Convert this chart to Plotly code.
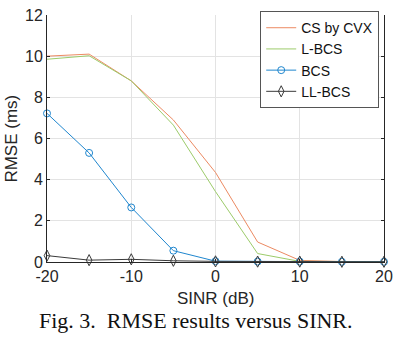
import plotly.graph_objects as go

sinr = [-20, -15, -10, -5, 0, 5, 10, 15, 20]
cs_cvx = [10.0, 10.1, 8.8, 6.9, 4.35, 0.97, 0.08, 0.02, 0.02]
l_bcs = [9.85, 10.02, 8.8, 6.65, 3.42, 0.41, 0.03, 0.02, 0.02]
bcs = [7.22, 5.3, 2.65, 0.55, 0.04, 0.02, 0.02, 0.01, 0.01]
ll_bcs = [0.31, 0.09, 0.13, 0.06, 0.03, 0.02, 0.02, 0.01, 0.01]

x_ticks = [-20, -10, 0, 10, 20]
y_ticks = [0, 2, 4, 6, 8, 10, 12]

FONT = "Liberation Sans, Arial, sans-serif"

fig = go.Figure()
fig.add_trace(go.Scatter(x=sinr, y=cs_cvx, name="CS by CVX", mode="lines",
                         line=dict(color="#EC8A62", width=1), cliponaxis=False))
fig.add_trace(go.Scatter(x=sinr, y=l_bcs, name="L-BCS", mode="lines",
                         line=dict(color="#9CCB6A", width=1), cliponaxis=False))
fig.add_trace(go.Scatter(x=sinr, y=bcs, name="BCS", mode="lines+markers",
                         line=dict(color="#1F86CE", width=1),
                         marker=dict(symbol="circle-open", size=7, color="#1F86CE", line=dict(width=1)),
                         cliponaxis=False))
fig.add_trace(go.Scatter(x=sinr, y=ll_bcs, name="LL-BCS", mode="lines+markers",
                         line=dict(color="#3A3A3A", width=1),
                         marker=dict(symbol="diamond-tall-open", size=8, color="#3A3A3A", line=dict(width=1)),
                         cliponaxis=False))

fig.update_layout(
    width=400, height=342,
    margin=dict(l=47, r=10, t=7, b=80),
    paper_bgcolor="white", plot_bgcolor="white",
    font=dict(family=FONT, size=16, color="#262626"),
    showlegend=True,
    legend=dict(x=(264 - 47) / 343, y=(262 - 3) / 255, xanchor="left", yanchor="top",
                bgcolor="white", bordercolor="#555555", borderwidth=1,
                font=dict(family=FONT, size=14, color="#111111"),
                tracegroupgap=0, itemwidth=30),
)
fig.update_xaxes(range=[-20, 20], tickvals=x_ticks, ticktext=[str(v) for v in x_ticks],
                 showgrid=True, gridcolor="#E3E3E3", gridwidth=1,
                 showline=True, linecolor="#262626", linewidth=1, mirror=False,
                 ticks="inside", ticklen=3, tickcolor="#262626",
                 zeroline=False, tickfont=dict(size=16), ticklabeloverflow="allow")
fig.update_yaxes(range=[0, 12], tickvals=y_ticks, ticktext=[str(v) for v in y_ticks],
                 showgrid=True, gridcolor="#E3E3E3", gridwidth=1,
                 showline=True, linecolor="#262626", linewidth=1, mirror="ticks",
                 ticks="inside", ticklen=3, tickcolor="#262626",
                 zeroline=False, tickfont=dict(size=16), ticklabeloverflow="allow")

fig.add_annotation(text="SINR (dB)", xref="paper", yref="paper", x=(218 - 47) / 343, y=-38 / 255,
                   xanchor="center", yanchor="middle", showarrow=False,
                   font=dict(family=FONT, size=17, color="#262626"))
fig.add_annotation(text="RMSE (ms)", xref="paper", yref="paper", x=(11 - 47) / 343, y=(262 - 135) / 255,
                   xanchor="center", yanchor="middle", showarrow=False, textangle=-90,
                   font=dict(family=FONT, size=17, color="#262626"))
fig.add_annotation(text="Fig. 3.&nbsp;&nbsp;RMSE results versus SINR.", xref="paper", yref="paper",
                   x=(199 - 47) / 343, y=-(322 - 262) / 255,
                   xanchor="center", yanchor="middle", showarrow=False,
                   font=dict(family="Liberation Serif, Times New Roman, serif", size=22, color="#111111"))

fig.write_html("out.html", post_script="document.body.style.margin='0';",
               config={"displayModeBar": False})
